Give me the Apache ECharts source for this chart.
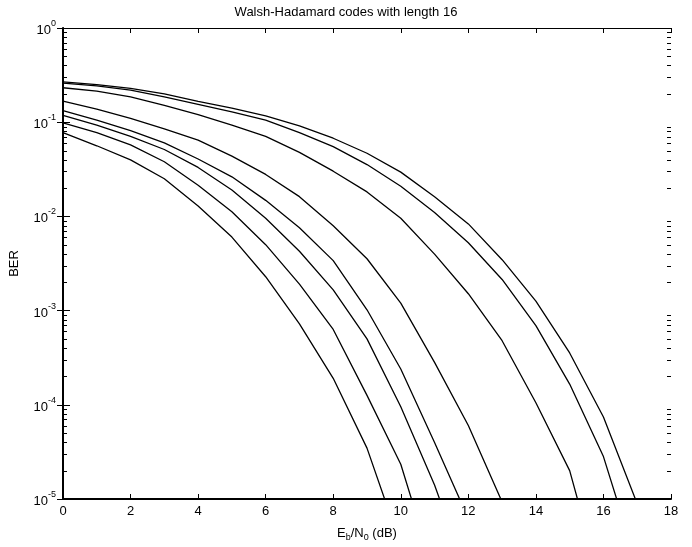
<!DOCTYPE html>
<html><head><meta charset="utf-8">
<script src="https://cdn.jsdelivr.net/npm/echarts@6/dist/echarts.min.js"></script>
<style>html,body{margin:0;padding:0;background:#fff}#c{width:692px;height:547px}</style>
</head><body><div id="c"></div>
<script>
// Eb/N0 in dB (simulation points)
const ebn0 = [0,1,2,3,4,5,6,7,8,9,10,11,12,13,14,15,16,17];
// BER curves (top to bottom at 0 dB)
const berA = [0.268,0.251,0.229,0.200,0.166,0.141,0.117,0.0912,0.0676,0.0468,0.0295,0.0162,0.00832,0.00347,0.00126,3.55e-4,7.41e-5,8.9e-6];
const berB = [0.260,0.243,0.219,0.186,0.155,0.129,0.105,0.0776,0.0550,0.0355,0.0209,0.0110,0.00525,0.00214,6.92e-4,1.66e-4,2.82e-5,2.0e-6];
const berC = [0.232,0.214,0.186,0.151,0.120,0.0933,0.0708,0.0479,0.0302,0.0182,0.00955,0.00398,0.00151,4.79e-4,1.05e-4,2.0e-5,1.0e-6];
const berD = [0.167,0.138,0.110,0.0851,0.0646,0.0437,0.0279,0.0162,0.00794,0.00355,0.00120,2.82e-4,6.03e-5,9.3e-6];
const berE = [0.133,0.105,0.0813,0.0603,0.0407,0.0263,0.0148,0.00759,0.00339,0.00102,2.40e-4,3.98e-5,6.2e-6];
const berF = [0.118,0.0933,0.0708,0.0513,0.0331,0.0191,0.00955,0.00427,0.00166,5.01e-4,9.55e-5,1.41e-5,1.4e-6];
const berG = [0.0984,0.0776,0.0575,0.0380,0.0214,0.0112,0.00501,0.00191,6.31e-4,1.26e-4,2.34e-5,1.6e-6];
const berH = [0.0776,0.0562,0.0398,0.0251,0.0129,0.00603,0.00229,7.24e-4,1.91e-4,3.47e-5,3.2e-6];
const curves = [berA, berB, berC, berD, berE, berF, berG, berH];

const titleText = 'Walsh-Hadamard codes with length 16';
const yName = 'BER';
const xMin = 0, xMax = 18, xStep = 2;
const yMin = 1e-5, yMax = 1;

const FONT = '"Liberation Sans", Arial, Helvetica, sans-serif';

const minorVals = [];
for (let e = -5; e < 0; e++) for (let k = 2; k <= 9; k++) minorVals.push(k * Math.pow(10, e));

const chart = echarts.init(document.getElementById('c'), null, {renderer: 'canvas'});

const yLabelRich = {
  b: {fontSize: 13, fontFamily: FONT, color: '#000', verticalAlign: 'bottom', lineHeight: 18},
  s: {fontSize: 9, fontFamily: FONT, color: '#000', verticalAlign: 'top', lineHeight: 18}
};
function yFmt(v) {
  const e = Math.round(Math.log10(v));
  return '{b|10}{s|' + e + '}';
}

const series = curves.map(c => ({
  type: 'line',
  data: c.map((v, i) => [ebn0[i], v]),
  showSymbol: false,
  symbol: 'none',
  lineStyle: {color: '#000', width: 1.3},
  clip: true,
  silent: true,
  animation: false
}));

series.push({
  type: 'custom',
  data: minorVals.map(v => [xMin, v]),
  silent: true,
  animation: false,
  z: 10,
  renderItem: function (params, api) {
    const v = api.value(1);
    const p = api.coord([xMin, v]);
    const q = api.coord([xMax, v]);
    const y = Math.round(p[1]) + 0.5;
    return {type: 'group', children: [
      {type: 'line', shape: {x1: p[0], y1: y, x2: p[0] + 4, y2: y}, style: {stroke: '#000', lineWidth: 1}},
      {type: 'line', shape: {x1: q[0] - 4, y1: y, x2: q[0], y2: y}, style: {stroke: '#000', lineWidth: 1}}
    ]};
  }
});

chart.setOption({
  animation: false,
  backgroundColor: '#fff',
  title: {
    text: titleText, left: 'center', top: 6, padding: 0,
    textStyle: {fontFamily: FONT, fontSize: 13, fontWeight: 'normal', color: '#000'}
  },
  grid: {left: 60, right: 21, top: 28, bottom: 41, containLabel: false},
  xAxis: [{
    type: 'value', min: xMin, max: xMax, interval: xStep, position: 'bottom',
    name: 'E{sub|b}/N{sub|0} (dB)', nameLocation: 'middle', nameGap: 26,
    nameTextStyle: {fontFamily: FONT, fontSize: 13, color: '#000',
      rich: {sub: {fontSize: 9, fontFamily: FONT, color: '#000', verticalAlign: 'bottom', padding: [8, 0, 0, 0]}}},
    axisLine: {show: true, lineStyle: {color: '#000', width: 2}},
    axisTick: {show: true, inside: true, length: 5, lineStyle: {color: '#000', width: 1}},
    axisLabel: {fontFamily: FONT, fontSize: 13, color: '#000', margin: 6},
    splitLine: {show: false}
  }, {
    type: 'value', min: xMin, max: xMax, interval: xStep, position: 'top',
    axisLine: {show: true, lineStyle: {color: '#000', width: 1}},
    axisTick: {show: true, inside: true, length: 5, lineStyle: {color: '#000', width: 1}},
    axisLabel: {show: false}, splitLine: {show: false}
  }],
  yAxis: [{
    type: 'log', logBase: 10, min: yMin, max: yMax, splitNumber: 5, position: 'left',
    name: yName, nameLocation: 'middle', nameGap: 42, nameRotate: 90,
    nameTextStyle: {fontFamily: FONT, fontSize: 13, color: '#000'},
    axisLine: {show: true, lineStyle: {color: '#000', width: 2}},
    axisTick: {show: true, inside: true, length: 7, lineStyle: {color: '#000', width: 1}},
    axisLabel: {formatter: yFmt, rich: yLabelRich, margin: 7},
    splitLine: {show: false}
  }, {
    type: 'log', logBase: 10, min: yMin, max: yMax, splitNumber: 5, position: 'right',
    axisLine: {show: true, lineStyle: {color: '#000', width: 1}},
    axisTick: {show: true, inside: true, length: 6, lineStyle: {color: '#000', width: 1}},
    axisLabel: {show: false}, splitLine: {show: false}
  }],
  series: series
});
</script></body></html>
